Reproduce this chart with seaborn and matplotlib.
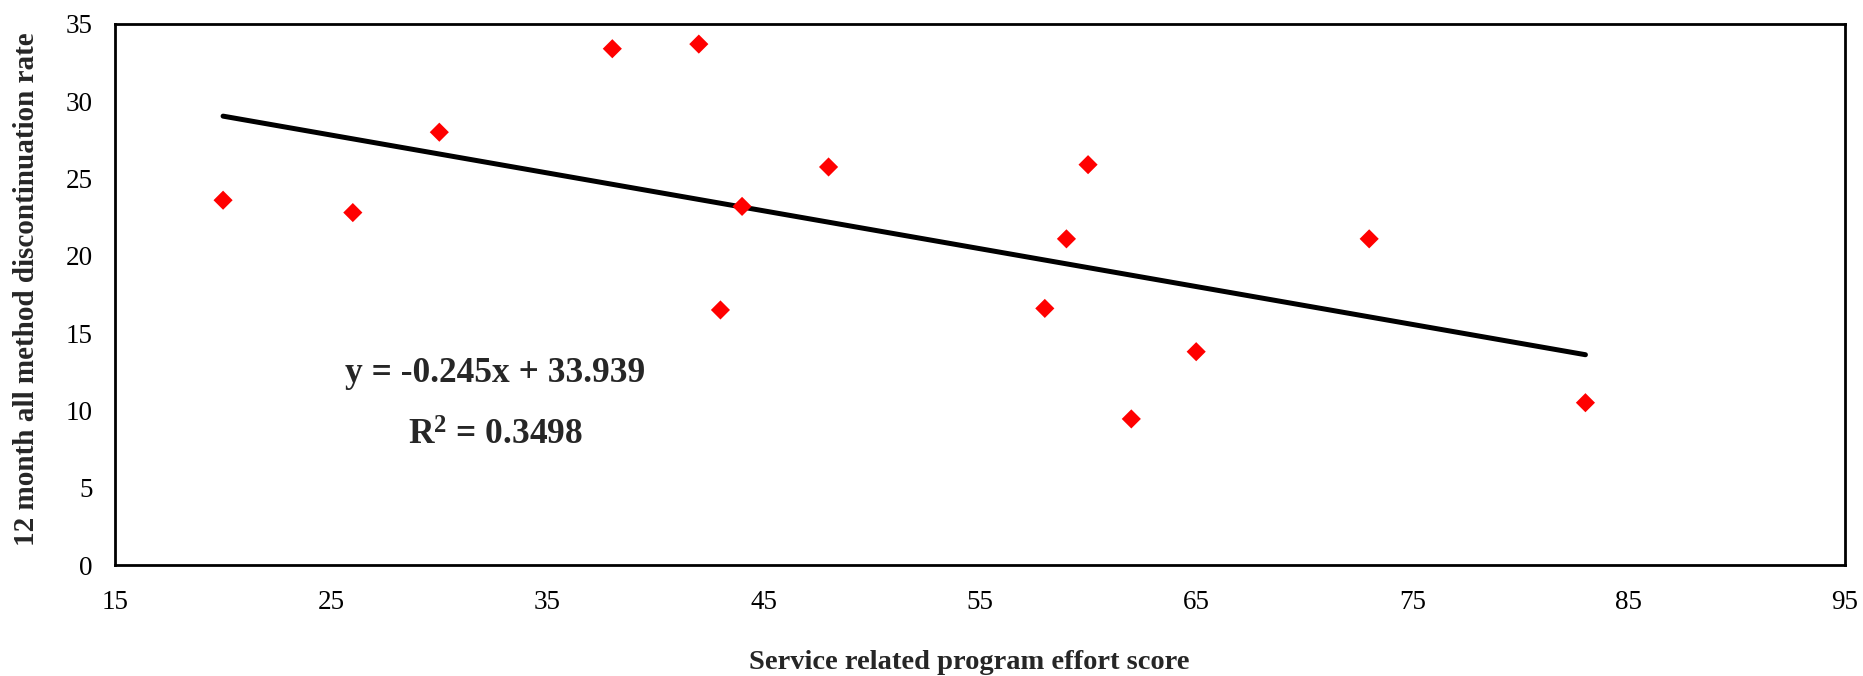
import matplotlib
matplotlib.use("Agg")
import matplotlib.pyplot as plt
import numpy as np
import pandas as pd
import seaborn as sns

# Program effort score vs 12-month discontinuation rate, one point per country
effort_score = [20, 26, 30, 38, 42, 43, 44, 48, 58, 59, 60, 62, 65, 73, 83]
discontinuation_rate = [23.6, 22.8, 28.0, 33.4, 33.7, 16.5, 23.2, 25.75,
                        16.6, 21.1, 25.9, 9.45, 13.8, 21.1, 10.5]

# Linear trend reported on the chart
slope = -0.245
intercept = 33.939
r_squared = 0.3498

x_ticks = [15, 25, 35, 45, 55, 65, 75, 85, 95]
y_ticks = [0, 5, 10, 15, 20, 25, 30, 35]

sns.set_style("white")
plt.rcParams["font.family"] = ["Liberation Serif", "DejaVu Serif"]
plt.rcParams["mathtext.fontset"] = "custom"
plt.rcParams["mathtext.rm"] = "Liberation Serif"
plt.rcParams["mathtext.bf"] = "Liberation Serif:bold"

df = pd.DataFrame({"score": effort_score, "rate": discontinuation_rate})
x_fit = np.array([min(effort_score), max(effort_score)], dtype=float)
fit = pd.DataFrame({"score": x_fit, "rate": slope * x_fit + intercept})

fig = plt.figure(figsize=(18.63, 6.76), dpi=100)
ax = fig.add_axes([0.0617, 0.1642, 0.9286, 0.8003])

sns.lineplot(data=fit, x="score", y="rate", ax=ax, color="black",
             linewidth=3.6, zorder=2)
sns.scatterplot(data=df, x="score", y="rate", ax=ax, marker="D", s=95,
                color="#ff0000", edgecolor="none", linewidth=0, zorder=3)

ax.set_xlim(15, 95)
ax.set_ylim(0, 35)
ax.set_xticks(x_ticks)
ax.set_yticks(y_ticks)
ax.tick_params(axis="both", direction="out", length=7, width=1.6,
               colors="black", labelsize=19.5)
ax.tick_params(axis="x", pad=11)
ax.tick_params(axis="y", pad=9)

for side in ["left", "right", "top", "bottom"]:
    ax.spines[side].set_visible(True)
    ax.spines[side].set_color("black")
    ax.spines[side].set_linewidth(2.0)

ax.set_xlabel("Service related program effort score", fontsize=20.5,
              fontweight="bold")
ax.set_ylabel("12 month all method discontinuation rate", fontsize=21,
              fontweight="bold")
ax.xaxis.label.set_va("center")
ax.yaxis.label.set_va("center")
ax.xaxis.set_label_coords(0.494, -0.18)
ax.yaxis.set_label_coords(-0.0514, 0.51)

ax.text(32.6, 12.42, f"y = {slope}x + {intercept}", fontsize=25.5,
        fontweight="bold", ha="center", va="center")
ax.text(32.6, 8.35, r"$\mathbf{R^{2}}$" + f" = {r_squared}", fontsize=25.5,
        fontweight="bold", ha="center", va="center")

fig.savefig("out.png", dpi=100, facecolor="white")
